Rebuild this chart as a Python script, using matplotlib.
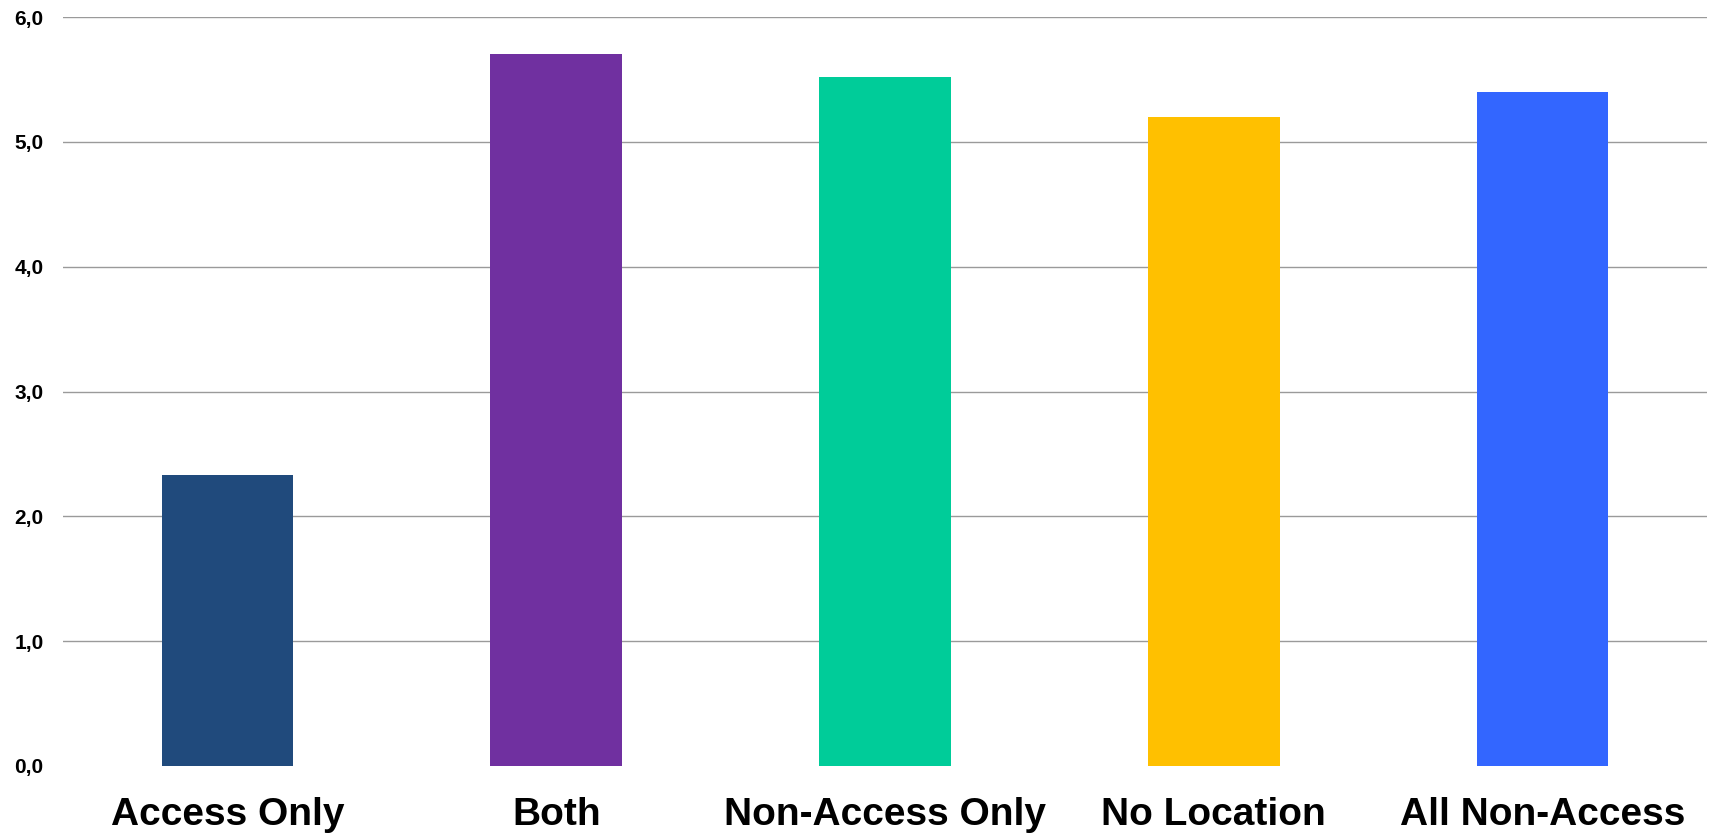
import matplotlib
matplotlib.use("Agg")
import matplotlib.pyplot as plt

categories = ["Access Only", "Both", "Non-Access Only", "No Location", "All Non-Access"]
values = [2.33, 5.70, 5.52, 5.20, 5.40]
colors = ["#204A7C", "#7030A0", "#00CC99", "#FFC000", "#3366FF"]
yticks = [0, 1, 2, 3, 4, 5, 6]

plt.rcParams["font.family"] = ["Liberation Sans", "DejaVu Sans"]

fig = plt.figure(figsize=(17.12, 8.36), dpi=100)
ax = fig.add_axes([63 / 1712, 70 / 836, 1644 / 1712, 749 / 836])

x = range(len(categories))
ax.bar(x, values, width=0.4, color=colors, zorder=3)

ax.set_xlim(-0.5, len(categories) - 0.5)
ax.set_ylim(0, 6)
ax.set_yticks(yticks)
ax.set_yticklabels([f"{t:.1f}".replace(".", ",") for t in yticks],
                   fontsize=15, fontweight="bold")
ax.set_xticks(list(x))
ax.set_xticklabels(categories, fontsize=28, fontweight="bold")

ax.tick_params(axis="y", length=0, pad=14)
ax.tick_params(axis="x", length=0, pad=22)

# horizontal gridlines, none at zero
for t in yticks[1:]:
    ax.axhline(t, color="#9a9a9a", linewidth=1.0, zorder=1)

for s in ax.spines.values():
    s.set_visible(False)

fig.savefig("out.png", dpi=100)
